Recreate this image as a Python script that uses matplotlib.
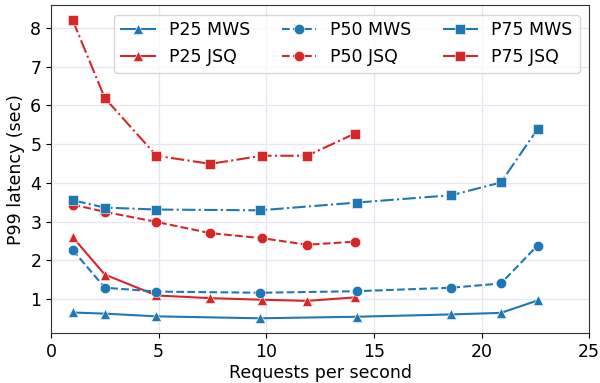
import matplotlib
matplotlib.use("Agg")
import matplotlib.pyplot as plt

mws_x = [1.0, 2.5, 4.9, 9.7, 14.2, 18.6, 20.9, 22.6]
jsq_x = [1.0, 2.5, 4.9, 7.4, 9.8, 11.9, 14.1]

p25_mws = [0.65, 0.62, 0.55, 0.50, 0.54, 0.60, 0.64, 0.96]
p25_jsq = [2.60, 1.63, 1.09, 1.02, 0.98, 0.95, 1.04]
p50_mws = [2.27, 1.29, 1.19, 1.16, 1.20, 1.29, 1.40, 2.38]
p50_jsq = [3.44, 3.25, 2.99, 2.70, 2.57, 2.40, 2.48]
p75_mws = [3.55, 3.36, 3.31, 3.29, 3.49, 3.68, 4.01, 5.39]
p75_jsq = [8.21, 6.19, 4.70, 4.49, 4.70, 4.70, 5.27]

blue = '#1f77b4'
red = '#d62728'

plt.rcParams['font.family'] = ['DejaVu Sans']
plt.rcParams['font.size'] = 12.5

fig = plt.figure(figsize=(6.0, 3.83), dpi=100)
ax = fig.add_axes([0.085, 0.13, 0.897, 0.857])

kw = dict(markersize=7.5, markeredgecolor='white', markeredgewidth=0.4, linewidth=1.5)
ax.plot(mws_x, p25_mws, '-', marker='^', color=blue, label='P25 MWS', **kw)
ax.plot(jsq_x, p25_jsq, '-', marker='^', color=red, label='P25 JSQ', **kw)
ax.plot(mws_x, p50_mws, '--', marker='o', color=blue, label='P50 MWS', **kw)
ax.plot(jsq_x, p50_jsq, '--', marker='o', color=red, label='P50 JSQ', **kw)
ax.plot(mws_x, p75_mws, '-.', marker='s', color=blue, label='P75 MWS', **kw)
ax.plot(jsq_x, p75_jsq, '-.', marker='s', color=red, label='P75 JSQ', **kw)

ax.set_xlim(0, 25)
ax.set_xticks([0, 5, 10, 15, 20, 25])
ax.set_yticks([1, 2, 3, 4, 5, 6, 7, 8])
ax.grid(True, color='#e6e6f5', linewidth=0.9)
ax.set_axisbelow(True)
for s in ax.spines.values():
    s.set_color('#333333')
ax.set_xlabel('Requests per second', labelpad=2)
ax.set_ylabel('P99 latency (sec)')
ax.legend(ncol=3, loc='upper right', fontsize=12.5, columnspacing=1.8,
          handlelength=2.0, borderaxespad=0.55)

fig.savefig('out.png', dpi=100)
